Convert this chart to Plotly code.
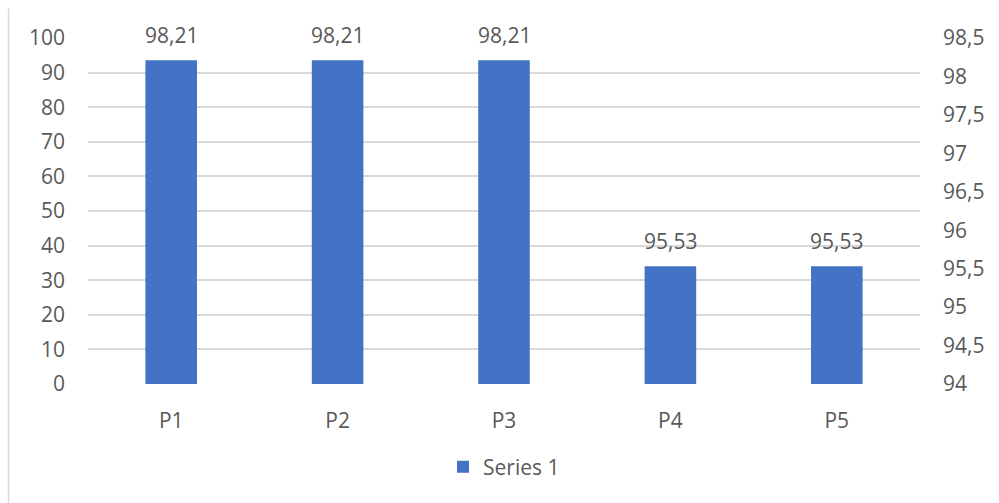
import plotly.graph_objects as go

# Chart data
categories = ["P1", "P2", "P3", "P4", "P5"]
series_1 = [98.21, 98.21, 98.21, 95.53, 95.53]
series_name = "Series 1"

left_range = [0, 100]
right_range = [94, 98.5]

BAR_COLOR = "#4472C4"
TEXT_COLOR = "#595959"
GRID_COLOR = "#D9D9D9"
FONT = "Open Sans, Noto Sans, sans-serif"
FONT_SIZE = 21

fig = go.Figure()

# empty trace so the primary (left) axis is drawn
fig.add_trace(go.Scatter(x=categories, y=[None] * len(categories), yaxis="y",
                         showlegend=False, hoverinfo="skip"))

fig.add_trace(go.Bar(
    x=categories, y=series_1, name=series_name, yaxis="y2",
    marker=dict(color=BAR_COLOR, line=dict(width=0)),
    width=0.31,
))

# value labels above each bar, using comma decimals
for cat, val in zip(categories, series_1):
    fig.add_annotation(
        x=cat, y=val, xref="x", yref="y2",
        text=f"{val:.2f}".replace(".", ","),
        showarrow=False, yanchor="bottom", yshift=9,
        font=dict(family=FONT, size=FONT_SIZE, color=TEXT_COLOR),
    )

# light frame line at the left edge of the chart area
fig.add_shape(type="line", xref="paper", yref="paper",
              x0=-0.0955, x1=-0.0955, y0=1.085, y1=-0.36,
              line=dict(color=GRID_COLOR, width=1.5))

fig.update_layout(
    width=999, height=503,
    margin=dict(l=88, r=79, t=38, b=119),
    paper_bgcolor="white", plot_bgcolor="white",
    separators=",.",
    font=dict(family=FONT, size=FONT_SIZE, color=TEXT_COLOR),
    showlegend=True,
    legend=dict(orientation="h", x=0.5, xanchor="center", y=-0.24, yanchor="middle",
                font=dict(family=FONT, size=FONT_SIZE, color=TEXT_COLOR),
                itemwidth=30),
    xaxis=dict(
        showgrid=False, showline=False, zeroline=False,
        ticks="", ticklabelstandoff=22,
        tickfont=dict(family=FONT, size=FONT_SIZE, color=TEXT_COLOR),
    ),
    yaxis=dict(
        range=left_range, dtick=10, tick0=0,
        showgrid=True, gridcolor=GRID_COLOR, gridwidth=1.5,
        zeroline=False, showline=False, ticks="",
        ticklabelstandoff=22,
        tickfont=dict(family=FONT, size=FONT_SIZE, color=TEXT_COLOR),
    ),
    yaxis2=dict(
        range=right_range, dtick=0.5, tick0=94,
        overlaying="y", side="right",
        showgrid=False, zeroline=False, showline=False, ticks="",
        ticklabelstandoff=22,
        tickfont=dict(family=FONT, size=FONT_SIZE, color=TEXT_COLOR),
    ),
)

fig.write_html("out.html")
